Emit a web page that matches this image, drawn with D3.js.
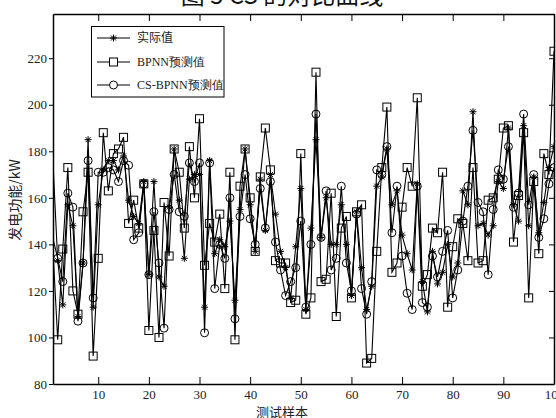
<!DOCTYPE html>
<html><head><meta charset="utf-8">
<script src="https://cdn.jsdelivr.net/npm/d3@7"></script>
<style>body{margin:0;background:#fff}svg{display:block}</style>
</head><body>
<svg id="c" width="556" height="418"></svg>
<script>
const samples = d3.range(1, 101);
const actual = [178,133,114,157,148,109,132,185,113,157,172,176,176,172,178,159,152,149,167,127,
 167,126,122,156,181,159,134,168,170,170,113,176,136,142,139,150,116,155,181,157,
 137,168,146,170,153,137,130,117,139,164,112,147,185,143,160,140,140,157,140,118,
 154,130,112,122,165,169,181,157,163,144,136,129,166,124,111,137,123,128,140,126,
 132,163,157,197,148,149,144,148,167,164,190,157,150,191,148,169,145,158,173,182];
const bpnn = [140,99,138,173,120,110,154,171,92,134,188,163,179,181,186,149,159,147,166,103,
 146,100,158,135,181,171,147,182,160,194,131,149,141,153,121,171,99,165,181,160,
 137,169,190,172,133,132,132,115,116,179,110,117,214,124,125,162,109,147,152,117,
 154,157,89,91,137,173,199,128,132,156,173,165,203,122,127,147,145,171,113,139,
 151,149,133,173,132,133,159,160,168,190,191,141,161,188,117,167,136,179,170,223];
const csbpnn = [143,134,124,162,156,107,132,176,117,171,171,173,172,167,176,174,142,145,166,127,
 154,132,104,155,170,154,152,175,167,175,102,175,121,140,134,160,108,152,170,151,
 140,164,147,167,141,129,118,124,130,150,113,140,196,143,163,129,134,165,132,120,
 153,121,110,124,172,170,182,145,165,135,119,112,165,115,113,135,126,137,146,117,
 129,150,165,189,158,154,127,155,172,168,182,156,162,196,157,170,143,151,166,173];
const xTicks = [10,20,30,40,50,60,70,80,90,100];
const yTicks = [80,100,120,140,160,180,200,220];
const legendLabels = ["实际值","BPNN预测值","CS-BPNN预测值"];

const svg = d3.select("#c");
const x = d3.scaleLinear().domain([1.07,100]).range([53,554]);
const y = d3.scaleLinear().domain([80,239]).range([384,14]);
const serif = "'Liberation Serif','DejaVu Serif',serif";
const cjk = "'Noto Sans CJK SC','Noto Sans CJK JP',sans-serif";

// title (partially cut at top)
svg.append("text").attr("x",282).attr("y",4).attr("text-anchor","middle")
  .attr("font-family",cjk).attr("font-size",24).attr("fill","#111")
  .text("图 5  CS 的对比曲线");

const g = svg.append("g");
svg.append("clipPath").attr("id","clip").append("rect")
  .attr("x",53).attr("y",14).attr("width",501).attr("height",370);

// axes
const xb = g.append("g").attr("transform","translate(0,384)")
  .call(d3.axisBottom(x).tickValues(xTicks).tickSizeInner(-7).tickSizeOuter(0).tickPadding(6));
const xt = g.append("g").attr("transform","translate(0,14)")
  .call(d3.axisTop(x).tickValues(xTicks).tickSizeInner(-7).tickSizeOuter(0).tickFormat(""));
const yl = g.append("g").attr("transform","translate(53,0)")
  .call(d3.axisLeft(y).tickValues(yTicks).tickSizeInner(4).tickSizeOuter(0).tickPadding(2));
const yr = g.append("g").attr("transform","translate(554,0)")
  .call(d3.axisRight(y).tickValues(yTicks).tickSizeInner(-5).tickSizeOuter(0).tickFormat(""));
[xb,xt,yl,yr].forEach(a=>{
  a.select(".domain").attr("stroke","#000").attr("stroke-width",1.5);
  a.selectAll(".tick line").attr("stroke","#000").attr("stroke-width",1);
  a.selectAll("text").attr("font-family",serif).attr("font-size",13).attr("fill","#222");
});

// axis labels
svg.append("text").attr("x",282).attr("y",417).attr("text-anchor","middle")
  .attr("font-family",cjk).attr("font-size",13).attr("fill","#222").text("测试样本");
svg.append("text").attr("transform","translate(20,200) rotate(-90)").attr("text-anchor","middle")
  .attr("font-family",cjk).attr("font-size",14).attr("fill","#222").text("发电功能/kW");

const plot = svg.append("g").attr("clip-path","url(#clip)");
const line = d3.line().x(d=>x(d.s)).y(d=>y(d.v));

function star(sel){
  sel.append("path").attr("d","M-3.5,0H3.5M0,-3.5V3.5M-2.5,-2.5L2.5,2.5M-2.5,2.5L2.5,-2.5")
    .attr("stroke","#000").attr("stroke-width",1).attr("fill","none");
}
function square(sel){
  sel.append("rect").attr("x",-4).attr("y",-4).attr("width",8).attr("height",8)
    .attr("stroke","#000").attr("stroke-width",1).attr("fill","none");
}
function circle(sel){
  sel.append("circle").attr("r",4).attr("stroke","#000").attr("stroke-width",1).attr("fill","none");
}
const series = [[actual,star],[bpnn,square],[csbpnn,circle]].map(([vals,mk])=>
  [vals.map((v,i)=>({s:samples[i],v})), mk]);
series.forEach(([pts])=>{
  plot.append("path").datum(pts).attr("d",line).attr("fill","none")
    .attr("stroke","#000").attr("stroke-width",1.1);
});
series.forEach(([pts,mk])=>{
  plot.selectAll(null).data(pts.filter(p=>p.s >= x.domain()[0])).enter().append("g")
    .attr("transform",d=>`translate(${x(d.s)},${y(d.v)})`).call(mk);
});

// legend
const lg = svg.append("g");
lg.append("rect").attr("x",91.5).attr("y",26.5).attr("width",132.5).attr("height",70.5)
  .attr("fill","#fff").attr("stroke","#000").attr("stroke-width",1);
const ly = [38,62,85];
const mks = [star,square,circle];
legendLabels.forEach((t,k)=>{
  lg.append("line").attr("x1",97).attr("x2",130).attr("y1",ly[k]).attr("y2",ly[k])
    .attr("stroke","#000").attr("stroke-width",1);
  const m = lg.append("g").attr("transform",`translate(113.5,${ly[k]})`);
  if(k>0) m.append("rect").attr("x",-4).attr("y",-4).attr("width",8).attr("height",8).attr("fill","#fff");
  m.call(mks[k]);
  lg.append("text").attr("x",137).attr("y",ly[k]).attr("dy","0.35em")
    .attr("font-family",k===0?cjk:serif).attr("font-size",12).attr("fill","#222").text(t);
});
</script>
</body></html>
